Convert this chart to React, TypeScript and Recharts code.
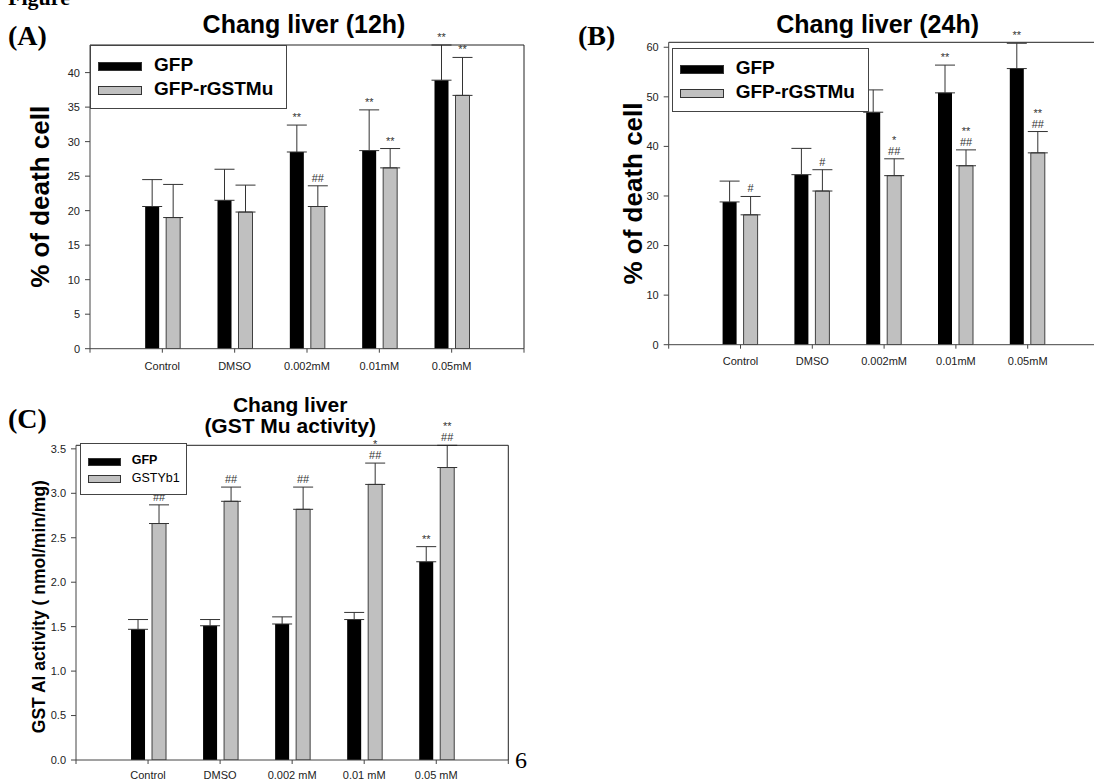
import React from 'react';
import { BarChart, Bar, XAxis, YAxis, ErrorBar, LabelList, Legend } from 'recharts';

const SANS = '"Liberation Sans", Arial, sans-serif';
const SERIF = '"Liberation Serif", "Times New Roman", serif';

const categoriesAB = ['Control', 'DMSO', '0.002mM', '0.01mM', '0.05mM'];
const categoriesC = ['Control', 'DMSO', '0.002 mM', '0.01 mM', '0.05 mM'];

// (A) Chang liver 12h, % of death cell
const gfp12 = [20.6, 21.5, 28.5, 28.7, 38.9];
const gfp12Err = [3.9, 4.5, 3.9, 5.9, 5.1];
const gfp12Notes = ['', '', '**', '**', '**'];
const mu12 = [19.0, 19.8, 20.6, 26.2, 36.7];
const mu12Err = [4.8, 3.9, 3.0, 2.8, 5.5];
const mu12Notes = ['', '', '##', '**', '**'];

// (B) Chang liver 24h
const gfp24 = [28.8, 34.3, 46.9, 50.8, 55.7];
const gfp24Err = [4.2, 5.3, 4.5, 5.6, 5.1];
const gfp24Notes = ['', '', '', '**', '**'];
const mu24 = [26.2, 31.0, 34.1, 36.1, 38.7];
const mu24Err = [3.7, 4.3, 3.4, 3.2, 4.3];
const mu24Notes = ['#', '#', '*|##', '**|##', '**|##'];

// (C) GST Mu activity
const gfpAct = [1.47, 1.51, 1.53, 1.58, 2.23];
const gfpActErr = [0.11, 0.07, 0.08, 0.08, 0.17];
const gfpActNotes = ['', '', '', '', '**'];
const ybAct = [2.66, 2.91, 2.82, 3.1, 3.29];
const ybActErr = [0.21, 0.16, 0.25, 0.24, 0.25];
const ybActNotes = ['##', '##', '##', '*|##', '**|##'];

const ticksA = [0, 5, 10, 15, 20, 25, 30, 35, 40];
const ticksB = [0, 10, 20, 30, 40, 50, 60];
const ticksC = [0, 0.5, 1, 1.5, 2, 2.5, 3, 3.5];

const buildRows = (
  a: number[], aErr: number[], aNotes: string[],
  b: number[], bErr: number[], bNotes: string[],
) =>
  a.map((v, i) => ({
    x: i + 1,
    a: v,
    aErr: [0, aErr[i]],
    aNote: aNotes[i],
    b: b[i],
    bErr: [0, bErr[i]],
    bNote: bNotes[i],
  }));

const noteRenderer = (values: number[], errs: number[]) => (props: any) => {
  const note = props.value;
  if (!note) return null;
  const vb = props.viewBox ?? props;
  const i = props.index;
  const ppu = vb.height / values[i];
  const top = vb.y - errs[i] * ppu;
  const cx = vb.x + vb.width / 2;
  const lines = String(note).split('|').reverse();
  return (
    <g>
      {lines.map((t, k) => (
        <text key={k} x={cx} y={top - 4 - k * 11} textAnchor="middle" fontSize={11} fill="#333" fontFamily={SANS}>
          {t}
        </text>
      ))}
    </g>
  );
};

type Item = { label: string; fill: string; bold: boolean };

function LegendBox({ w, h, sw, shh, rowsTop, textLeft, fontSize, items }: any) {
  return (
    <div style={{ position: 'relative', width: w, height: h, border: '1px solid #444', background: '#fff', boxSizing: 'border-box' }}>
      {items.map((it: Item, k: number) => (
        <React.Fragment key={k}>
          <div style={{ position: 'absolute', left: 7, top: rowsTop[k], width: sw, height: shh, background: it.fill, border: '1px solid #333', boxSizing: 'border-box' }} />
          <div style={{ position: 'absolute', left: textLeft, top: rowsTop[k] + shh / 2 - fontSize * 0.58, fontFamily: SANS, fontSize, fontWeight: it.bold ? 700 : 400, lineHeight: 1, color: '#000', whiteSpace: 'nowrap' }}>
            {it.label}
          </div>
        </React.Fragment>
      ))}
    </div>
  );
}

function Panel(props: any) {
  const {
    left, top, width, height, margin, rows, categories, domain, ticks, tickFmt,
    aVals, aErrs, bVals, bErrs, title, titleSize, titleLift, titleShift,
    yLabel, yLabelSize, yLabelDx, yLabelDy, xTickMargin, legend,
  } = props;

  // axes take 1px each, so the margins are trimmed by 1 to keep the plot box
  const m = { top: margin.top - 1, right: margin.right - 1, bottom: margin.bottom - 1, left: margin.left - 1 };

  const titleContent = (p: any) => {
    const vb = p.viewBox;
    const cx = vb.x + vb.width / 2 + titleShift;
    const base = vb.y + vb.height;
    const lines: string[] = title;
    return (
      <g>
        {lines.map((t, k) => (
          <text key={k} x={cx} y={base - titleLift[k]} textAnchor="middle" fontFamily={SANS} fontWeight={700} fontSize={titleSize} fill="#000">
            {t}
          </text>
        ))}
      </g>
    );
  };

  const yLabelContent = (p: any) => {
    const vb = p.viewBox;
    const cx = vb.x + vb.width + yLabelDx;
    const cy = vb.y + vb.height / 2 + yLabelDy;
    return (
      <text x={cx} y={cy} transform={`rotate(-90 ${cx} ${cy})`} textAnchor="middle" dominantBaseline="central" fontFamily={SANS} fontWeight={700} fontSize={yLabelSize} fill="#000">
        {yLabel}
      </text>
    );
  };

  return (
    <div style={{ position: 'absolute', left, top, width, height }}>
      <BarChart width={width} height={height} data={rows} margin={m} barSize={14} barGap={7}>
        <XAxis
          dataKey="x"
          type="number"
          domain={[0, 6]}
          ticks={[0, 1, 2, 3, 4, 5, 6]}
          interval={0}
          tickFormatter={(v: number) => categories[v - 1] ?? ''}
          height={1}
          tickSize={4}
          tickMargin={xTickMargin}
          axisLine={{ stroke: '#444' }}
          tickLine={{ stroke: '#444' }}
          tick={{ fontSize: 11, fill: '#222', fontFamily: SANS }}
        />
        <XAxis
          xAxisId="top"
          orientation="top"
          dataKey="x"
          type="number"
          domain={[0, 6]}
          height={1}
          tick={false}
          tickLine={false}
          axisLine={{ stroke: '#222' }}
          label={titleContent}
        />
        <YAxis
          domain={domain}
          ticks={ticks}
          allowDataOverflow
          interval={0}
          width={1}
          tickSize={5}
          tickMargin={5}
          tickFormatter={tickFmt}
          axisLine={{ stroke: '#444' }}
          tickLine={{ stroke: '#444' }}
          tick={{ fontSize: 11, fill: '#222', fontFamily: SANS }}
          label={yLabelContent}
        />
        <YAxis
          yAxisId="right"
          orientation="right"
          domain={domain}
          allowDataOverflow
          width={1}
          tick={false}
          tickLine={false}
          axisLine={{ stroke: '#222' }}
        />
        <Legend
          layout="vertical"
          align="center"
          verticalAlign="middle"
          wrapperStyle={{ left: legend.left, top: legend.top, width: legend.w, height: legend.h }}
          content={() => <LegendBox {...legend} />}
        />
        <Bar dataKey="a" fill="#000" isAnimationActive={false}>
          <ErrorBar dataKey="aErr" direction="y" width={10} stroke="#333" strokeWidth={1} />
          <LabelList dataKey="aNote" content={noteRenderer(aVals, aErrs)} />
        </Bar>
        <Bar dataKey="b" fill="#c0c0c0" stroke="#404040" strokeWidth={1} isAnimationActive={false}>
          <ErrorBar dataKey="bErr" direction="y" width={10} stroke="#333" strokeWidth={1} />
          <LabelList dataKey="bNote" content={noteRenderer(bVals, bErrs)} />
        </Bar>
      </BarChart>
    </div>
  );
}

const rowsA = buildRows(gfp12, gfp12Err, gfp12Notes, mu12, mu12Err, mu12Notes);
const rowsB = buildRows(gfp24, gfp24Err, gfp24Notes, mu24, mu24Err, mu24Notes);
const rowsC = buildRows(gfpAct, gfpActErr, gfpActNotes, ybAct, ybActErr, ybActNotes);

const legendAB = (left: number, top: number) => ({
  left, top, w: 197, h: 64, sw: 44, shh: 9, rowsTop: [16, 40], textLeft: 63, fontSize: 19,
  items: [
    { label: 'GFP', fill: '#000', bold: true },
    { label: 'GFP-rGSTMu', fill: '#c0c0c0', bold: true },
  ],
});

export default function App() {
  return (
    <div style={{ position: 'absolute', left: 0, top: 0, width: 1094, height: 782, overflow: 'hidden', background: '#fff' }}>
      <svg width={1094} height={782} style={{ position: 'absolute', left: 0, top: 0 }}>
        <text x={8} y={5} fontFamily={SERIF} fontWeight={700} fontSize={22}>Figure</text>
        <text x={8} y={45} fontFamily={SERIF} fontWeight={700} fontSize={28}>(A)</text>
        <text x={578} y={45} fontFamily={SERIF} fontWeight={700} fontSize={28}>(B)</text>
        <text x={8} y={428} fontFamily={SERIF} fontWeight={700} fontSize={28}>(C)</text>
        <text x={515} y={768} fontFamily={SERIF} fontSize={24}>6</text>
      </svg>
      <Panel
        left={0} top={0} width={540} height={380}
        margin={{ top: 45, right: 16, bottom: 31.3, left: 90 }}
        rows={rowsA} categories={categoriesAB}
        domain={[0, 44]} ticks={ticksA} tickFmt={(v: number) => String(v)}
        aVals={gfp12} aErrs={gfp12Err} bVals={mu12} bErrs={mu12Err}
        title={['Chang liver (12h)']} titleSize={25} titleLift={[12]} titleShift={-3}
        yLabel="% of death cell" yLabelSize={26} yLabelDx={-50} yLabelDy={0} xTickMargin={9}
        legend={legendAB(90, 45)}
      />
      <Panel
        left={580} top={0} width={530} height={380}
        margin={{ top: 42.3, right: 10.5, bottom: 35.3, left: 88.7 }}
        rows={rowsB} categories={categoriesAB}
        domain={[0, 61]} ticks={ticksB} tickFmt={(v: number) => String(v)}
        aVals={gfp24} aErrs={gfp24Err} bVals={mu24} bErrs={mu24Err}
        title={['Chang liver (24h)']} titleSize={25} titleLift={[9.3]} titleShift={-6.5}
        yLabel="% of death cell" yLabelSize={26} yLabelDx={-35.5} yLabelDy={0} xTickMargin={8}
        legend={legendAB(91.7, 47.7)}
      />
      <Panel
        left={0} top={380} width={530} height={402}
        margin={{ top: 65.3, right: 21.7, bottom: 22, left: 76 }}
        rows={rowsC} categories={categoriesC}
        domain={[0, 3.54]} ticks={ticksC} tickFmt={(v: number) => v.toFixed(1)}
        aVals={gfpAct} aErrs={gfpActErr} bVals={ybAct} bErrs={ybActErr}
        title={['Chang liver', '(GST Mu activity)']} titleSize={21} titleLift={[33, 12]} titleShift={-2}
        yLabel="GST Al activity ( nmol/min/mg)" yLabelSize={17.5} yLabelDx={-37} yLabelDy={4} xTickMargin={7}
        legend={{
          left: 80, top: 63.3, w: 107, h: 52, sw: 33, shh: 8, rowsTop: [13.4, 30.7], textLeft: 50.7, fontSize: 12.5,
          items: [
            { label: 'GFP', fill: '#000', bold: true },
            { label: 'GSTYb1', fill: '#c0c0c0', bold: false },
          ],
        }}
      />
    </div>
  );
}
